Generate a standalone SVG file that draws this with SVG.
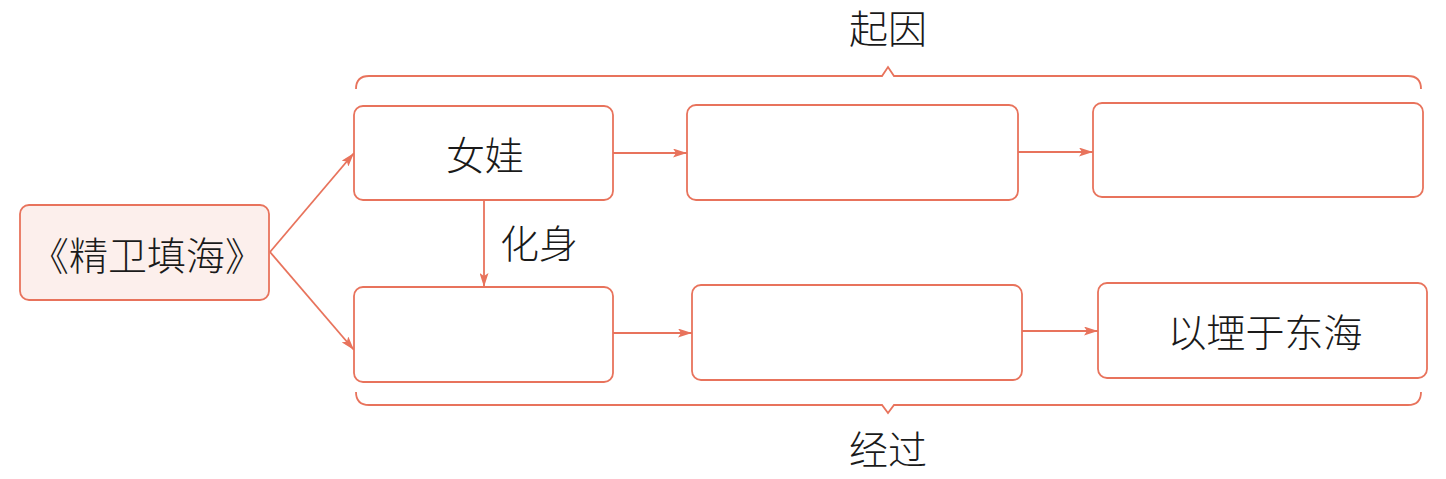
<svg xmlns="http://www.w3.org/2000/svg" width="1446" height="479" viewBox="0 0 1446 479">
<style>
.box{fill:#ffffff;stroke:#e8735c;stroke-width:1.8}
.main{fill:#fcefec;stroke:#e8735c;stroke-width:1.8}
.ln{fill:none;stroke:#e8735c;stroke-width:1.8}
.t{font-family:"Noto Sans CJK SC","Noto Sans CJK JP",sans-serif;font-size:39px;font-weight:300;fill:#1a1a1a;text-anchor:middle;dominant-baseline:central}
</style>
<defs>
<marker id="ah" viewBox="0 0 14 9" refX="14" refY="4.5" markerWidth="14" markerHeight="9" markerUnits="userSpaceOnUse" orient="auto">
<path d="M0,0 L14,4.5 L0,9 L3,4.5 Z" fill="#e8735c"/>
</marker>
</defs>
<rect width="1446" height="479" fill="#ffffff"/>
<g id="connectors">
<path class="ln" d="M270,252 L354,153" marker-end="url(#ah)"/>
<path class="ln" d="M270,252 L354,350" marker-end="url(#ah)"/>
<path class="ln" d="M613,153 L687,153" marker-end="url(#ah)"/>
<path class="ln" d="M1018,152 L1093,152" marker-end="url(#ah)"/>
<path class="ln" d="M613,333 L692,333" marker-end="url(#ah)"/>
<path class="ln" d="M1022,331 L1098,331" marker-end="url(#ah)"/>
<path class="ln" d="M484,200 L484,287" marker-end="url(#ah)"/>
<text class="t" x="539" y="241">化身</text>
</g>
<g id="brace-top">
<path class="ln" d="M356,89 Q356,76 369,76 L882,76 L888,67 L894,76 L1408,76 Q1421,76 1421,89"/>
<text class="t" x="888" y="26">起因</text>
</g>
<g id="brace-bottom">
<path class="ln" d="M356,392 Q356,405 369,405 L882,405 L888,413 L894,405 L1408,405 Q1421,405 1421,392"/>
<text class="t" x="888" y="447">经过</text>
</g>
<g id="node-main">
<rect class="main" x="20" y="205" width="249" height="95" rx="9"/>
<text class="t" x="147" y="253">《精卫填海》</text>
</g>
<g id="node-a">
<rect class="box" x="354" y="106" width="259" height="94" rx="9"/>
<text class="t" x="485" y="153">女娃</text>
</g>
<g id="node-b">
<rect class="box" x="687" y="105" width="331" height="95" rx="9"/>
</g>
<g id="node-c">
<rect class="box" x="1093" y="103" width="330" height="94" rx="9"/>
</g>
<g id="node-d">
<rect class="box" x="354" y="287" width="259" height="95" rx="9"/>
</g>
<g id="node-e">
<rect class="box" x="692" y="285" width="330" height="95" rx="9"/>
</g>
<g id="node-f">
<rect class="box" x="1098" y="283" width="329" height="95" rx="9"/>
<text class="t" x="1265" y="330">以堙于东海</text>
</g>
</svg>
